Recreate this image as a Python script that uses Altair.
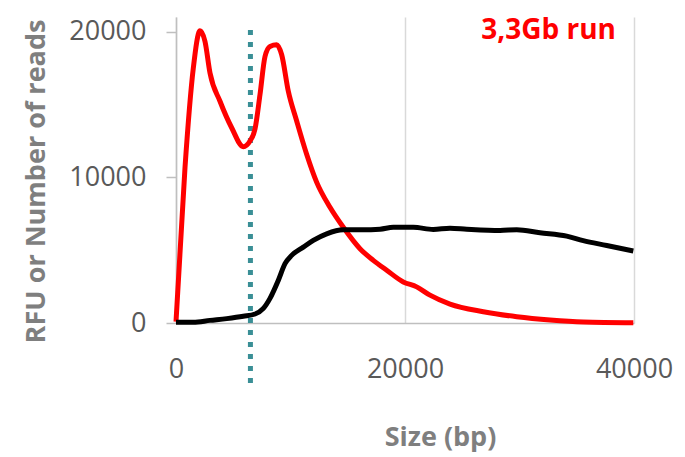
import altair as alt
import pandas as pd

# Red curve (RFU)
red_x = [0, 786, 1513, 2096, 2533, 2970, 3843, 4862, 5880, 6463, 6900, 7337, 7773, 8210, 8792,
         9230, 9810, 10540, 11410, 12290, 13450, 14610, 16070, 17230, 18400, 19850, 21020, 22180,
         23930, 26840, 29760, 32670, 35570, 39940]
red_y = [100, 10670, 17500, 20050, 19320, 17150, 15220, 13400, 12100, 12490, 13310, 15680, 18290,
         18980, 19090, 18410, 15900, 13860, 11580, 9650, 7940, 6570, 5100, 4300, 3620, 2820, 2480,
         1910, 1300, 775, 430, 205, 68, 20]

# Black curve (number of reads)
black_x = [0, 1513, 2970, 4430, 5880, 6900, 7630, 8210, 8940, 9520, 10100, 11120, 11990, 13160,
           14610, 16070, 17820, 18980, 20730, 22470, 23930, 25390, 28300, 29760, 31790, 34120,
           35570, 37620, 39940]
black_y = [50, 50, 180, 300, 460, 615, 1000, 1690, 2935, 4075, 4640, 5210, 5670, 6120, 6395, 6400,
           6440, 6570, 6570, 6420, 6510, 6440, 6350, 6400, 6190, 5960, 5650, 5320, 4940]

vline_x = [6500]
vline_top = [20100]
vline_bottom = [-4400]

title_text = "3,3Gb run"
x_label = "Size (bp)"
y_label = "RFU or Number of reads"
x_ticks = [0, 20000, 40000]
y_ticks = [0, 10000, 20000]

df = pd.concat([
    pd.DataFrame({"x": red_x, "y": red_y, "s": "red", "o": range(len(red_x))}),
    pd.DataFrame({"x": black_x, "y": black_y, "s": "black", "o": range(len(black_x))}),
])
vdf = pd.DataFrame({"x": vline_x, "y": vline_top, "y2": vline_bottom})

FONT = "Open Sans"

xscale = alt.Scale(domain=[0, 40000], nice=False)
yscale = alt.Scale(domain=[0, 21000], nice=False)

xaxis = alt.Axis(values=x_ticks, title=x_label, format="d", grid=True, gridColor="#D9D9D9",
                 gridWidth=1.5, ticks=False, tickSize=0, domainColor="#BFBFBF", domainWidth=1.5,
                 labelFont=FONT, labelFontSize=27, labelColor="#595959", labelPadding=33,
                 labelFlush=False,
                 titleFont=FONT, titleFontSize=27, titleFontWeight="bold", titleColor="#7F7F7F",
                 titleX=264, titleY=114, titleBaseline="middle", titleAnchor="middle")
yaxis = alt.Axis(values=y_ticks, title=y_label, format="d", grid=False, ticks=True, tickSize=10,
                 tickColor="#BFBFBF", tickWidth=1.5, domainColor="#BFBFBF", domainWidth=1.5,
                 labelFont=FONT, labelFontSize=27, labelColor="#595959", labelPadding=20,
                 titleFont=FONT, titleFontSize=27, titleFontWeight="bold", titleColor="#7F7F7F",
                 titleX=-140, titleY=164, titleBaseline="middle", titleAngle=270,
                 titleAlign="center")

lines = alt.Chart(df).mark_line(strokeWidth=5, interpolate="monotone", strokeJoin="round").encode(
    x=alt.X("x:Q", scale=xscale, axis=xaxis),
    y=alt.Y("y:Q", scale=yscale, axis=yaxis),
    color=alt.Color("s:N", scale=alt.Scale(domain=["red", "black"], range=["#FF0000", "#000000"]),
                    legend=None),
    order="o:Q",
    detail="s:N",
)

vline = alt.Chart(vdf).mark_rule(color="#3A8F96", strokeWidth=5, strokeDash=[5, 7],
                                 strokeCap="butt").encode(
    x=alt.X("x:Q", scale=xscale),
    y=alt.Y("y:Q", scale=yscale),
    y2="y2:Q",
)

title = alt.Chart(pd.DataFrame({"t": [title_text]})).mark_text(
    font=FONT, fontSize=28, fontWeight="bold", color="#FF0000", align="right", baseline="middle"
).encode(text="t:N", x=alt.value(440), y=alt.value(14))

chart = alt.layer(vline, lines, title).properties(
    width=458, height=306,
    autosize=alt.AutoSizeParams(type="none"),
    padding={"left": 168, "top": 9, "right": 40, "bottom": 130},
).configure_view(stroke=None)

chart.save("out.html", embed_options={"renderer": "svg", "actions": False})
